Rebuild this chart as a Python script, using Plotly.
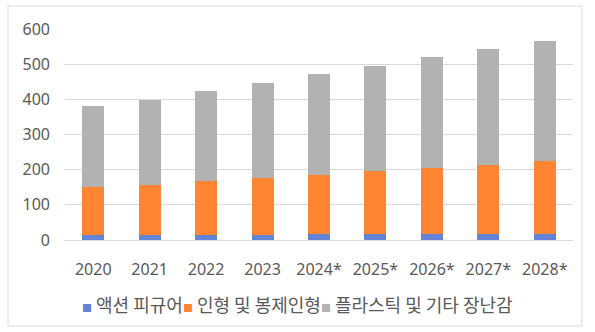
import plotly.graph_objects as go

years = ["2020", "2021", "2022", "2023", "2024*", "2025*", "2026*", "2027*", "2028*"]
action_figures = [14, 14, 14, 14, 18, 18, 18, 18, 18]
dolls_plush = [137, 142, 154, 163, 167, 178, 187, 194, 206]
plastic_other = [230, 242, 256, 269, 287, 299, 315, 331, 342]
series_names = ["액션 피규어", "인형 및 봉제인형", "플라스틱 및 기타 장난감"]
colors = ["#6283D8", "#FF8533", "#B2B2B2"]
y_ticks = [0, 100, 200, 300, 400, 500, 600]

W, H = 595, 332
L, R, T, B = 65, 22, 29, 92
pw, ph = W - L - R, H - T - B

def px_x(p):
    return (p - L) / pw

def px_y(p):
    return (H - B - p) / ph

fig = go.Figure()
for name, vals, col in zip(series_names, [action_figures, dolls_plush, plastic_other], colors):
    fig.add_trace(go.Bar(x=years, y=vals, name=name, showlegend=False,
                         marker=dict(color=col, line=dict(width=0))))

# legend drawn as one line of real text with coloured square glyphs
legend_html = "".join(
    f"<span style='color:{c};font-size:10px'>■</span> {n}" for n, c in zip(series_names, colors)
)

font_fam = "Noto Sans, Noto Sans CJK KR, sans-serif"
fig.update_layout(
    width=W, height=H,
    margin=dict(l=L, r=R, t=T, b=B),
    barmode="stack",
    bargap=0.61,
    plot_bgcolor="white",
    paper_bgcolor="white",
    font=dict(family=font_fam, size=16, color="#595959"),
    showlegend=False,
    xaxis=dict(showgrid=False, showline=False, ticks="", ticklabelstandoff=18,
               tickfont=dict(size=16, color="#595959")),
    yaxis=dict(range=[0, 600], tickvals=y_ticks, showgrid=True, gridcolor="#D9D9D9", gridwidth=1,
               zeroline=True, zerolinecolor="#D9D9D9", zerolinewidth=1, ticks="",
               ticklabelstandoff=14, tickfont=dict(size=16, color="#595959")),
    annotations=[dict(text=legend_html, xref="paper", yref="paper", x=px_x(297), y=px_y(304),
                      xanchor="center", yanchor="middle", showarrow=False,
                      font=dict(family="Noto Sans CJK KR, sans-serif", size=18, color="#595959"))],
    shapes=[dict(type="rect", xref="paper", yref="paper",
                 x0=px_x(8), x1=px_x(582), y0=px_y(326), y1=px_y(6),
                 line=dict(color="#D9D9D9", width=1), fillcolor="rgba(0,0,0,0)", layer="below")],
)

fig.write_html("out.html")
